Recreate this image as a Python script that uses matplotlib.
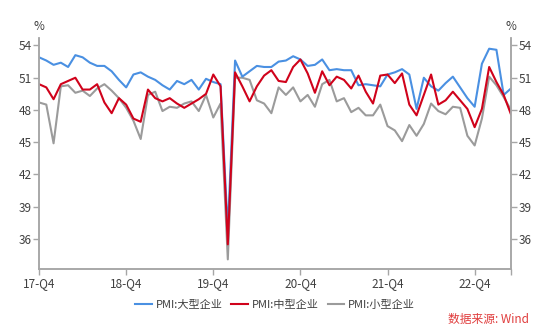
import matplotlib
matplotlib.use("Agg")
import matplotlib.pyplot as plt

plt.rcParams['font.family'] = ['Noto Sans CJK SC', 'DejaVu Sans']

# 月度数据：2017-12 至 2023-05
large = [52.9,
         52.6, 52.2, 52.4, 52.0, 53.1, 52.9, 52.4, 52.1, 52.1, 51.6, 50.8, 50.1,
         51.3, 51.5, 51.1, 50.8, 50.3, 49.9, 50.7, 50.4, 50.8, 49.9, 50.9, 50.6,
         50.4, 36.8, 52.6, 51.1, 51.6, 52.1, 52.0, 52.0, 52.5, 52.6, 53.0, 52.7,
         52.1, 52.2, 52.7, 51.7, 51.8, 51.7, 51.7, 50.3, 50.4, 50.3, 50.2, 51.3,
         51.5, 51.8, 51.3, 48.1, 51.0, 50.2, 49.8, 50.5, 51.1, 50.1, 49.1, 48.3,
         52.3, 53.7, 53.6, 49.4, 50.0]
medium = [50.4,
          50.1, 49.0, 50.4, 50.7, 51.0, 49.9, 49.9, 50.4, 48.7, 47.7, 49.1, 48.5,
          47.2, 46.9, 49.9, 49.1, 48.8, 49.1, 48.6, 48.2, 48.6, 49.0, 49.5, 51.3,
          50.2, 35.5, 51.5, 50.2, 48.8, 50.2, 51.2, 51.7, 50.7, 50.6, 52.0, 52.7,
          51.4, 49.6, 51.6, 50.3, 51.1, 50.8, 50.0, 51.2, 49.7, 48.6, 51.2, 51.3,
          50.5, 51.4, 48.5, 47.5, 49.4, 51.3, 48.5, 48.9, 49.7, 48.9, 48.1, 46.4,
          48.1, 52.0, 50.6, 49.4, 47.6]
small = [48.7,
         48.5, 44.9, 50.2, 50.3, 49.6, 49.8, 49.3, 50.0, 50.4, 49.8, 49.1, 48.2,
         47.0, 45.3, 49.4, 49.7, 47.9, 48.3, 48.2, 48.6, 48.8, 47.9, 49.4, 47.3,
         48.6, 34.1, 51.0, 51.0, 50.8, 48.9, 48.6, 47.7, 50.1, 49.4, 50.1, 48.8,
         49.4, 48.3, 50.4, 50.8, 48.8, 49.1, 47.8, 48.2, 47.5, 47.5, 48.5, 46.5,
         46.1, 45.1, 46.6, 45.6, 46.7, 48.6, 47.9, 47.6, 48.3, 48.2, 45.6, 44.7,
         47.2, 51.1, 50.3, 49.2, 48.0]

xtick_pos = [0, 12, 24, 36, 48, 60, 65]
xtick_labels = ['17-Q4', '18-Q4', '19-Q4', '20-Q4', '21-Q4', '22-Q4', '']
yticks = [36, 39, 42, 45, 48, 51, 54]

x = list(range(len(large)))
axis_color = '#a6a6a6'
text_color = '#404040'

fig = plt.figure(figsize=(5.5, 3.33), dpi=100)
ax = fig.add_axes([0.071, 0.192, 0.858, 0.694])

l3, = ax.plot(x, small, color='#9b9b9b', lw=1.5, label='PMI:小型企业')
l1, = ax.plot(x, large, color='#4a90e2', lw=1.5, label='PMI:大型企业')
l2, = ax.plot(x, medium, color='#d0021b', lw=1.5, label='PMI:中型企业')

ax.set_xlim(0, 65)
ax.set_ylim(33.2, 54.7)
ax.set_xticks(xtick_pos)
ax.set_xticklabels(xtick_labels)
ax.set_yticks(yticks)

ax2 = ax.twinx()
ax2.set_ylim(ax.get_ylim())
ax2.set_yticks(yticks)

for a in (ax, ax2):
    for s in a.spines.values():
        s.set_color(axis_color)
        s.set_linewidth(1.1)
    a.spines['top'].set_visible(False)
    a.tick_params(colors=axis_color, labelcolor=text_color, labelsize=8.5,
                  length=4, width=1.0, pad=1.5)

ax.text(0, 1.05, '%', transform=ax.transAxes, ha='center', va='center',
        fontsize=8.5, color=text_color)
ax.text(1, 1.05, '%', transform=ax.transAxes, ha='center', va='center',
        fontsize=8.5, color=text_color)

fig.legend(handles=[l1, l2, l3], loc='center', bbox_to_anchor=(0.5, 0.085),
           ncol=3, frameon=False, fontsize=8, handlelength=1.5,
           handletextpad=0.35, columnspacing=0.8, labelcolor=text_color)

fig.text(0.962, 0.042, '数据来源: Wind', ha='right', va='center',
         fontsize=8.5, color='#e03c3c')

fig.savefig('out.png', dpi=100)
